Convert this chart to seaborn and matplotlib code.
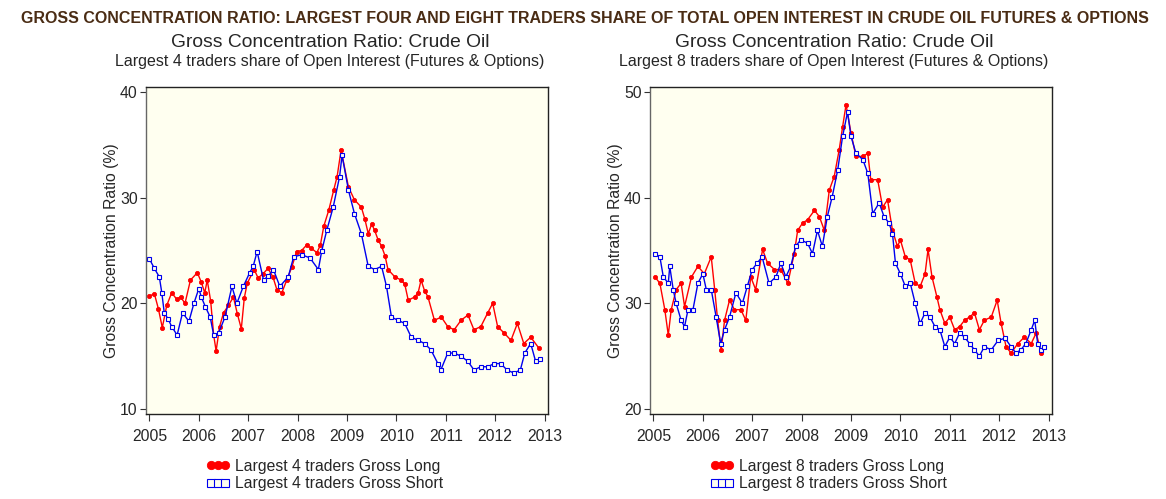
import matplotlib
matplotlib.use("Agg")
import matplotlib.pyplot as plt
import seaborn as sns
import pandas as pd

sns.set_style("white")
plt.rcParams['font.family'] = ['Liberation Sans', 'DejaVu Sans']

# Largest 4 traders, gross long (red)
long4_t = [2005.0, 2005.1, 2005.18, 2005.26, 2005.35, 2005.45, 2005.55, 2005.63, 2005.72, 2005.83,
           2005.97, 2006.05, 2006.12, 2006.17, 2006.24, 2006.3, 2006.35, 2006.42, 2006.5, 2006.6,
           2006.7, 2006.78, 2006.86, 2006.92, 2006.98, 2007.12, 2007.2, 2007.3, 2007.4, 2007.5,
           2007.58, 2007.68, 2007.78, 2007.88, 2007.98, 2008.08, 2008.18, 2008.28, 2008.39, 2008.46,
           2008.53, 2008.63, 2008.73, 2008.8, 2008.88, 2009.03, 2009.15, 2009.29, 2009.36, 2009.43,
           2009.5, 2009.56, 2009.63, 2009.7, 2009.77, 2009.83, 2009.97, 2010.1, 2010.17, 2010.24,
           2010.37, 2010.44, 2010.5, 2010.57, 2010.64, 2010.77, 2010.91, 2011.04, 2011.17, 2011.31,
           2011.45, 2011.57, 2011.71, 2011.85, 2011.95, 2012.05, 2012.18, 2012.32, 2012.45, 2012.58,
           2012.72, 2012.88]
long4_v = [20.7, 20.9, 19.5, 17.7, 19.8, 21.0, 20.4, 20.6, 20.0, 22.2,
           22.9, 22.0, 21.0, 22.2, 20.2, 17.0, 15.5, 17.8, 19.1, 19.8,
           20.6, 19.0, 17.6, 20.5, 21.9, 23.2, 22.4, 22.8, 23.3, 22.5,
           21.3, 21.0, 22.2, 23.4, 24.9, 25.0, 25.5, 25.2, 24.8, 25.5,
           27.3, 28.8, 30.7, 32.0, 34.5, 31.0, 29.8, 29.1, 28.0, 26.6,
           27.5, 26.9, 26.0, 25.4, 24.5, 23.2, 22.5, 22.2, 21.8, 20.3,
           20.6, 21.0, 22.2, 21.2, 20.6, 18.4, 18.7, 17.8, 17.5, 18.4,
           18.9, 17.5, 17.8, 19.1, 20.0, 17.8, 17.2, 16.5, 18.1, 16.2,
           16.8, 15.8]

# Largest 4 traders, gross short (blue)
short4_t = [2005.0, 2005.1, 2005.2, 2005.25, 2005.3, 2005.38, 2005.45, 2005.56, 2005.67, 2005.8,
            2005.9, 2006.0, 2006.05, 2006.13, 2006.23, 2006.3, 2006.4, 2006.53, 2006.67, 2006.77,
            2006.9, 2007.03, 2007.1, 2007.18, 2007.31, 2007.41, 2007.51, 2007.64, 2007.81, 2007.92,
            2008.08, 2008.25, 2008.42, 2008.49, 2008.59, 2008.72, 2008.85, 2008.9, 2009.03, 2009.15,
            2009.29, 2009.43, 2009.56, 2009.7, 2009.8, 2009.9, 2010.03, 2010.17, 2010.3, 2010.44,
            2010.57, 2010.7, 2010.84, 2010.9, 2011.04, 2011.17, 2011.31, 2011.45, 2011.57, 2011.71,
            2011.85, 2011.98, 2012.11, 2012.24, 2012.38, 2012.51, 2012.6, 2012.72, 2012.82, 2012.9]
short4_v = [24.2, 23.3, 22.5, 21.0, 19.1, 18.5, 17.8, 17.0, 19.1, 18.3,
            20.0, 21.4, 20.6, 19.7, 18.7, 17.0, 17.2, 18.7, 21.6, 20.0,
            21.6, 22.9, 23.5, 24.9, 22.2, 22.6, 23.2, 21.6, 22.5, 24.4,
            24.6, 24.3, 23.2, 25.0, 26.9, 29.1, 32.0, 34.0, 30.7, 28.5,
            26.6, 23.5, 23.2, 23.5, 21.6, 18.7, 18.4, 18.1, 16.8, 16.5,
            16.2, 15.6, 14.3, 13.7, 15.3, 15.3, 15.0, 14.5, 13.7, 14.0,
            14.0, 14.3, 14.3, 13.7, 13.4, 13.7, 15.3, 16.2, 14.5, 14.7]

# Largest 8 traders, gross long (red)
long8_t = [2005.03, 2005.13, 2005.23, 2005.3, 2005.36, 2005.46, 2005.56, 2005.63, 2005.77, 2005.9,
           2006.03, 2006.17, 2006.24, 2006.3, 2006.37, 2006.44, 2006.54, 2006.64, 2006.77, 2006.87,
           2006.97, 2007.07, 2007.21, 2007.31, 2007.45, 2007.58, 2007.72, 2007.85, 2007.92, 2008.02,
           2008.12, 2008.26, 2008.36, 2008.46, 2008.56, 2008.66, 2008.76, 2008.83, 2008.9, 2009.0,
           2009.1, 2009.24, 2009.34, 2009.4, 2009.54, 2009.64, 2009.74, 2009.84, 2009.94, 2010.0,
           2010.1, 2010.2, 2010.3, 2010.4, 2010.5, 2010.56, 2010.64, 2010.74, 2010.8, 2010.9,
           2011.0, 2011.1, 2011.2, 2011.3, 2011.4, 2011.5, 2011.6, 2011.7, 2011.84, 2011.96,
           2012.04, 2012.14, 2012.24, 2012.38, 2012.51, 2012.65, 2012.75, 2012.85, 2012.9]
long8_v = [32.5, 31.9, 29.4, 27.0, 29.4, 31.3, 31.9, 29.7, 32.5, 33.5,
           32.8, 34.4, 31.3, 28.4, 25.6, 28.4, 30.3, 29.4, 29.4, 28.4,
           32.5, 31.3, 35.1, 33.8, 33.2, 33.2, 31.9, 34.7, 36.9, 37.6,
           37.9, 38.8, 38.2, 36.9, 40.7, 42.0, 44.5, 46.7, 48.8, 46.1,
           43.9, 43.9, 44.2, 41.7, 41.7, 39.1, 39.8, 36.9, 35.4, 36.0,
           34.4, 34.1, 31.9, 31.6, 32.8, 35.1, 32.5, 30.6, 29.4, 28.1,
           28.7, 27.5, 27.8, 28.4, 28.7, 29.1, 27.5, 28.4, 28.7, 30.3,
           28.1, 25.9, 25.3, 26.2, 26.8, 26.2, 27.2, 25.3, 25.9]

# Largest 8 traders, gross short (blue)
short8_t = [2005.03, 2005.13, 2005.2, 2005.3, 2005.33, 2005.4, 2005.46, 2005.56, 2005.63, 2005.7,
            2005.8, 2005.9, 2006.0, 2006.07, 2006.17, 2006.27, 2006.36, 2006.44, 2006.54, 2006.67,
            2006.8, 2006.9, 2007.0, 2007.1, 2007.2, 2007.34, 2007.48, 2007.58, 2007.68, 2007.78,
            2007.88, 2007.98, 2008.12, 2008.22, 2008.32, 2008.42, 2008.52, 2008.62, 2008.73, 2008.83,
            2008.93, 2009.0, 2009.1, 2009.24, 2009.34, 2009.44, 2009.57, 2009.67, 2009.77, 2009.84,
            2009.9, 2010.0, 2010.1, 2010.2, 2010.3, 2010.4, 2010.5, 2010.6, 2010.7, 2010.8,
            2010.9, 2011.0, 2011.1, 2011.2, 2011.3, 2011.4, 2011.5, 2011.6, 2011.7, 2011.84,
            2011.98, 2012.12, 2012.24, 2012.34, 2012.44, 2012.54, 2012.65, 2012.72, 2012.78, 2012.85,
            2012.9]
short8_v = [34.7, 34.4, 32.5, 31.9, 33.5, 31.3, 30.0, 28.4, 27.8, 29.4,
            29.4, 31.9, 32.8, 31.3, 31.3, 28.7, 26.2, 27.5, 28.7, 31.0,
            30.0, 31.6, 33.2, 33.8, 34.4, 31.9, 32.5, 33.8, 32.5, 33.5,
            35.4, 36.0, 35.7, 34.7, 36.9, 35.4, 38.2, 40.1, 42.6, 45.8,
            48.1, 45.8, 44.2, 43.6, 42.3, 38.5, 39.5, 38.2, 37.6, 36.6,
            33.8, 32.8, 31.6, 31.9, 30.0, 28.1, 29.1, 28.7, 27.8, 27.5,
            25.9, 26.8, 26.2, 27.2, 26.8, 26.2, 25.6, 25.0, 25.9, 25.6,
            26.5, 26.7, 25.9, 25.3, 25.6, 26.2, 27.5, 28.4, 26.2, 25.6,
            25.9]

years = list(range(2005, 2014))
panels = [
    ("4", long4_t, long4_v, short4_t, short4_v, [10, 20, 30, 40], (9.53, 40.47)),
    ("8", long8_t, long8_v, short8_t, short8_v, [20, 30, 40, 50], (19.53, 50.47)),
]

fig = plt.figure(figsize=(11.66, 4.99), dpi=100)
fig.text(0.502, 0.963, "GROSS CONCENTRATION RATIO: LARGEST FOUR AND EIGHT TRADERS SHARE OF TOTAL "
         "OPEN INTEREST IN CRUDE OIL FUTURES & OPTIONS",
         ha='center', va='center', fontsize=11.5, fontweight='bold', color='#4a2c14')

lefts = [146 / 1166, 650 / 1166]
for i, (n, lt, lv, st, sv, yticks, ylim) in enumerate(panels):
    ax = fig.add_axes([lefts[i], 85 / 499, 402 / 1166, 327 / 499])
    ax.set_facecolor('#fffff0')

    long_df = pd.DataFrame({'t': lt, 'v': lv})
    short_df = pd.DataFrame({'t': st, 'v': sv})
    sns.lineplot(data=long_df, x='t', y='v', ax=ax, color='#ff0000', lw=1.0, sort=False,
                 marker='o', markersize=3.0, markeredgewidth=0.6, markeredgecolor='#ff0000',
                 label=f"Largest {n} traders Gross Long")
    sns.lineplot(data=short_df, x='t', y='v', ax=ax, color='#0000ee', lw=1.0, sort=False,
                 marker='s', markersize=3.0, markeredgewidth=0.8, markerfacecolor='#fffff0',
                 markeredgecolor='#0000ee', label=f"Largest {n} traders Gross Short")

    ax.set_xlim(2004.93, 2013.07)
    ax.set_ylim(*ylim)
    ax.set_xticks(years)
    ax.set_xticklabels([str(y) for y in years], fontsize=11.3)
    ax.set_yticks(yticks)
    ax.set_yticklabels([str(y) for y in yticks], fontsize=11.3)
    ax.tick_params(axis='x', direction='out', length=5, width=0.8, color='#333333', pad=6,
                   bottom=True)
    ax.tick_params(axis='y', direction='out', length=4, width=0.8, color='#333333', pad=2,
                   left=True)
    ax.set_xlabel("")
    ax.set_ylabel("Gross Concentration Ratio (%)", fontsize=11.3)
    ax.yaxis.set_label_coords(-0.068, 0.5)
    for side in ax.spines:
        ax.spines[side].set_color('#222222')
        ax.spines[side].set_linewidth(1.0)
    ax.spines['left'].set_color('#666666')

    ax.text(0.458, 1.135, "Gross Concentration Ratio: Crude Oil", transform=ax.transAxes,
            ha='center', va='center', fontsize=13.9)
    ax.text(0.458, 1.077, f"Largest {n} traders share of Open Interest (Futures & Options)",
            transform=ax.transAxes, ha='center', va='center', fontsize=11.5)

    leg = ax.legend(loc='upper left', bbox_to_anchor=(0.15, -0.137), frameon=False,
                    fontsize=11.3, numpoints=3, handlelength=1.5, handletextpad=0.35,
                    labelspacing=0.17, borderpad=0, borderaxespad=0)
    for h in leg.legend_handles:
        h.set_markersize(6)

fig.savefig("out.png", dpi=100)
